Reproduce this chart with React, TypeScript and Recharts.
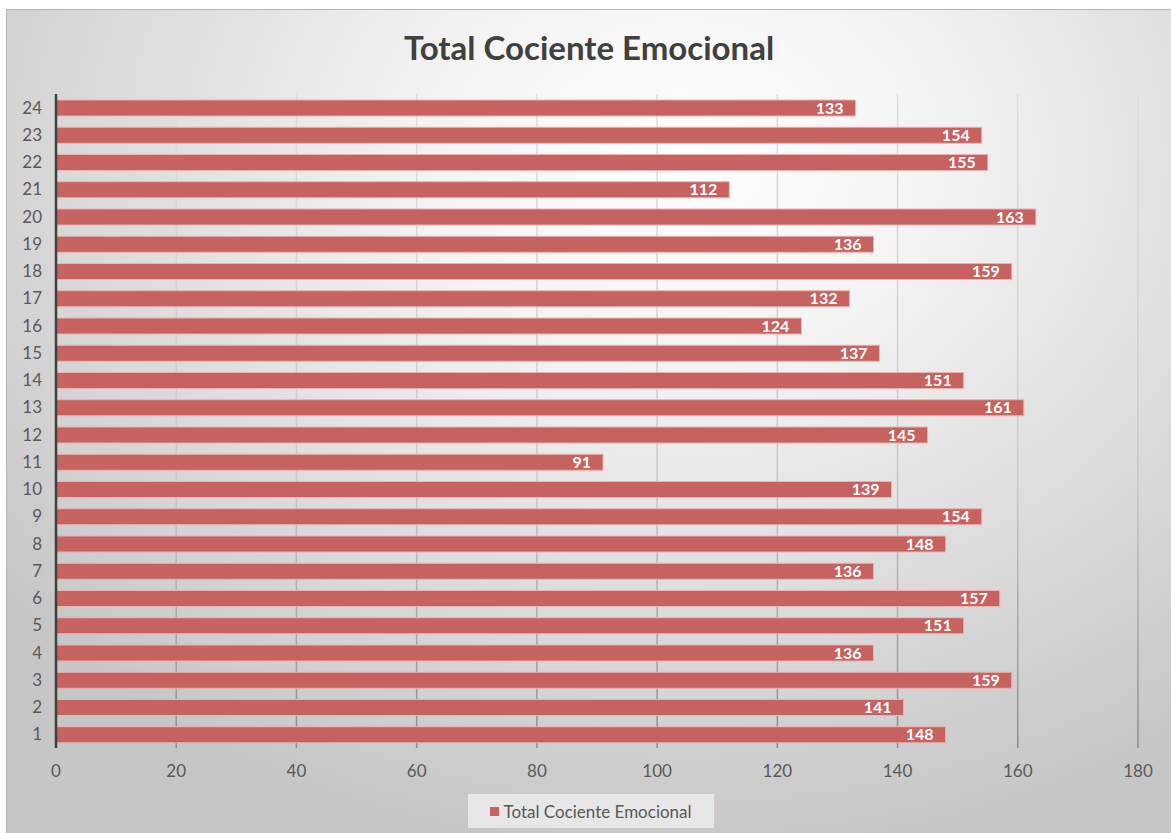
import { BarChart, Bar, XAxis, YAxis, CartesianGrid, LabelList } from 'recharts';

// Participant numbers (bottom to top) and their total score
const participants = [
  '1', '2', '3', '4', '5', '6', '7', '8', '9', '10', '11', '12',
  '13', '14', '15', '16', '17', '18', '19', '20', '21', '22', '23', '24',
];
const totals = [
  148, 141, 159, 136, 151, 157, 136, 148, 154, 139, 91, 145,
  161, 151, 137, 124, 132, 159, 136, 163, 112, 155, 154, 133,
];
const xTicks = [0, 20, 40, 60, 80, 100, 120, 140, 160, 180];

const SERIES_NAME = 'Total Cociente Emocional';
const BAR_COLOR = '#c6625f';
const FONT = 'Lato, "Open Sans", sans-serif';

const App = () => {
  const data = participants.map((name, i) => ({ name, value: totals[i] }));

  return (
    <div
      style={{
        position: 'absolute',
        left: 6,
        top: 9,
        width: 1165,
        height: 824,
        borderTop: '1px solid #b4b4b4',
        borderLeft: '1px solid #b4b4b4',
        boxSizing: 'border-box',
        background:
          'radial-gradient(ellipse 75% 85% at 58% 18%, #ffffff 0%, #f3f3f3 30%, #dcdcdc 65%, #c6c6c6 100%)',
        fontFamily: FONT,
      }}
    >
      <div
        style={{
          position: 'absolute',
          top: 17,
          left: 0,
          width: '100%',
          textAlign: 'center',
          fontSize: 33,
          fontWeight: 700,
          color: '#404040',
        }}
      >
        {SERIES_NAME}
      </div>

      <BarChart
        width={1164}
        height={823}
        data={data}
        layout="vertical"
        margin={{ top: 84, right: 33, left: 0, bottom: 55 }}
        barSize={16}
      >
        <defs>
          <linearGradient id="gridFade" gradientUnits="userSpaceOnUse" x1="0" y1="84" x2="0" y2="738">
            <stop offset="0%" stopColor="#dedede" />
            <stop offset="60%" stopColor="#c8c8c8" />
            <stop offset="100%" stopColor="#8c8c8c" />
          </linearGradient>
        </defs>
        <CartesianGrid horizontal={false} stroke="url(#gridFade)" strokeWidth={1.5} />
        <XAxis
          type="number"
          domain={[0, 180]}
          ticks={xTicks}
          axisLine={false}
          tickLine={false}
          tickSize={0}
          tickMargin={17}
          height={30}
          tick={{ fill: '#595959', fontSize: 17, fontFamily: FONT }}
        />
        <YAxis
          type="category"
          dataKey="name"
          reversed
          width={49}
          axisLine={{ stroke: '#404040', strokeWidth: 2.5 }}
          tickLine={false}
          tickSize={0}
          tickMargin={14}
          interval={0}
          tick={{ fill: '#595959', fontSize: 17, fontFamily: FONT }}
        />
        <Bar
          dataKey="value"
          name={SERIES_NAME}
          fill={BAR_COLOR}
          stroke="#eab2b0"
          strokeWidth={1}
          isAnimationActive={false}
        >
          <LabelList
            dataKey="value"
            position="insideRight"
            offset={12}
            fill="#ffffff"
            fontSize={16}
            fontWeight={700}
            fontFamily={FONT}
          />
        </Bar>
      </BarChart>

      <div
        style={{
          position: 'absolute',
          left: 461,
          top: 784,
          width: 246,
          height: 34,
          background: 'rgba(236, 236, 236, 0.85)',
          display: 'flex',
          alignItems: 'center',
          justifyContent: 'center',
          gap: 4,
          fontSize: 17,
          color: '#595959',
        }}
      >
        <span style={{ display: 'inline-block', width: 9, height: 9, background: BAR_COLOR }} />
        <span>{SERIES_NAME}</span>
      </div>
    </div>
  );
};

export default App;
